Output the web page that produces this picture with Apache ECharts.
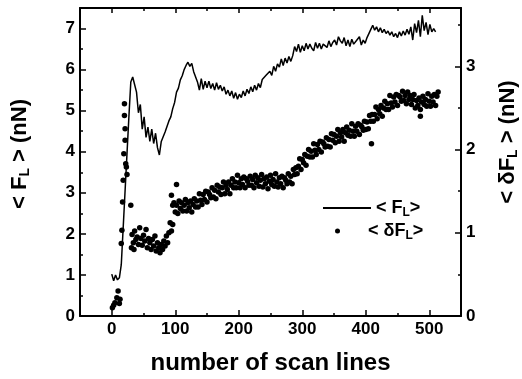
<!DOCTYPE html>
<html>
<head>
<meta charset="utf-8">
<script src="https://cdn.jsdelivr.net/npm/echarts@6/dist/echarts.min.js"></script>
<style>html,body{margin:0;padding:0;background:#fff}#c{width:522px;height:379px}</style>
</head>
<body>
<div id="c"></div>
<script>
// <F_L> (left axis), one value every 3 scan lines starting at 0
const flStartScan = 0;
const flStepScan = 3;
const meanFL = [1.02,0.86,1.00,0.88,0.93,1.25,2.15,3.05,3.95,4.85,
5.70,5.82,5.78,5.45,4.95,5.15,4.55,4.85,4.35,4.60,
4.25,4.55,4.20,4.45,4.10,3.92,4.25,4.22,4.48,4.45,
4.75,4.85,5.05,5.20,5.45,5.55,5.75,5.85,6.00,6.10,
6.18,6.08,6.15,5.95,5.92,5.70,5.50,5.78,5.52,5.72,
5.56,5.72,5.54,5.66,5.50,5.68,5.52,5.62,5.48,5.58,
5.40,5.50,5.36,5.48,5.30,5.44,5.28,5.40,5.32,5.48,
5.36,5.52,5.42,5.58,5.46,5.62,5.50,5.66,5.56,5.76,
5.76,5.86,5.82,5.96,5.86,6.08,5.96,6.14,6.06,6.26,
6.10,6.28,6.16,6.32,6.20,6.34,6.56,6.44,6.62,6.42,
6.58,6.46,6.64,6.50,6.62,6.52,6.46,6.66,6.52,6.64,
6.50,6.62,6.58,6.54,6.70,6.56,6.66,6.72,6.60,6.80,
6.70,6.64,6.78,6.58,6.72,6.56,6.74,6.62,6.58,6.74,
6.80,6.60,6.72,6.64,6.78,6.80,6.98,7.08,6.96,7.04,
6.92,7.02,6.90,6.98,6.88,6.94,6.84,6.92,6.80,6.88,
6.78,6.92,6.82,6.94,6.84,6.98,6.86,7.04,6.72,7.12,
6.90,7.20,6.80,7.32,6.95,7.15,6.85,7.10,6.92,7.00,
6.92];

// <dF_L> (right axis): scattered early points with explicit scan lines
const dFScanEarly = [1,3,5,8,10,12,13,15,16,17,18,19,20,20,21,21,22,23,24,30,
31,32,34,35,36,38,40,42,44,46,48,50,52,54,56,58,60,62,64,66,68,70,72,74,76,78,80,82,84,86,88,90,92,94,96,
94,96,102,409,486,514];
const dFValueEarly = [0.10,0.13,0.16,0.22,0.30,0.15,0.20,0.87,1.03,1.37,1.63,1.95,2.55,2.41,2.25,2.11,1.83,1.79,1.70,1.33,
0.82,0.98,0.88,0.80,1.02,0.92,0.95,0.86,1.06,0.93,0.85,0.97,0.90,1.04,0.82,0.93,0.88,0.80,0.92,0.84,0.96,0.78,0.88,0.82,0.76,0.86,0.80,0.90,0.84,0.96,0.88,1.00,1.12,1.02,1.10,
1.45,1.33,1.58,2.07,2.40,2.69];
// <dF_L> band, one value every 2 scan lines starting at 98
const dFBandStartScan = 98;
const dFBandStepScan = 2;
const dFBand = [1.36,1.25,1.33,1.23,1.38,1.29,1.36,1.26,1.33,1.40,
1.26,1.36,1.30,1.38,1.25,1.34,1.41,1.31,1.38,1.31,
1.47,1.39,1.34,1.46,1.40,1.50,1.37,1.49,1.46,1.42,
1.54,1.43,1.51,1.41,1.57,1.49,1.55,1.46,1.54,1.61,
1.47,1.57,1.52,1.61,1.47,1.57,1.65,1.54,1.61,1.54,
1.69,1.60,1.54,1.65,1.58,1.67,1.54,1.65,1.62,1.57,
1.68,1.57,1.64,1.54,1.69,1.60,1.66,1.56,1.63,1.70,
1.55,1.65,1.59,1.67,1.53,1.62,1.69,1.58,1.64,1.56,
1.71,1.61,1.55,1.66,1.59,1.68,1.54,1.66,1.63,1.59,
1.71,1.61,1.68,1.59,1.76,1.70,1.78,1.71,1.80,1.89,
1.76,1.88,1.84,1.94,1.81,1.92,2.00,1.91,1.98,1.91,
2.07,1.99,1.94,2.06,2.00,2.10,1.97,2.09,2.07,2.03,
2.14,2.04,2.12,2.03,2.19,2.11,2.18,2.08,2.16,2.24,
2.10,2.20,2.15,2.24,2.10,2.20,2.27,2.17,2.23,2.16,
2.31,2.22,2.16,2.28,2.22,2.31,2.18,2.29,2.27,2.23,
2.34,2.24,2.33,2.25,2.41,2.34,2.42,2.34,2.42,2.51,
2.37,2.48,2.43,2.53,2.40,2.50,2.58,2.48,2.55,2.48,
2.65,2.56,2.51,2.63,2.57,2.66,2.53,2.65,2.63,2.58,
2.70,2.59,2.65,2.55,2.69,2.60,2.65,2.54,2.60,2.66,
2.50,2.59,2.53,2.62,2.48,2.57,2.64,2.54,2.60,2.52,
2.67,2.58,2.52,2.64,2.57,2.66,2.53,2.64];

const xMajorTicks = [0,100,200,300,400,500];
const xMinorTicks = [50,150,250,350,450];

const FONT = "'Liberation Sans', Arial, Helvetica, sans-serif";
const BLACK = '#000';

const flData = meanFL.map((v, i) => [flStartScan + i * flStepScan, v]);
const dFData = dFScanEarly.map((s, i) => [s, dFValueEarly[i]])
  .concat(dFBand.map((v, i) => [dFBandStartScan + i * dFBandStepScan, v]));

const subRich = (size, pad) => ({ sub: { fontSize: size, fontWeight: 'bold', fontFamily: FONT, color: BLACK, padding: [pad, 0, 0, 0] } });
const titleStyle = (shift) => ({ fontSize: 22, fontWeight: 'bold', fontFamily: FONT, color: BLACK, padding: [0, 0, 0, shift], rich: subRich(14, 10) });
const tickLabel = { color: BLACK, fontSize: 17, fontWeight: 'bold', fontFamily: FONT };
const lineSt = { color: BLACK, width: 2 };

function xAxisDef(pos, ticks, len, main) {
  return {
    type: 'value', min: -50, max: 550, position: pos,
    axisLine: { show: main, onZero: false, lineStyle: lineSt },
    axisTick: { show: true, inside: true, length: len, customValues: ticks, lineStyle: { color: BLACK, width: 1.5 } },
    axisLabel: (main && pos === 'bottom') ? Object.assign({ customValues: xMajorTicks, margin: 5 }, tickLabel) : { show: false },
    splitLine: { show: false },
    name: (main && pos === 'bottom') ? 'number of scan lines' : '',
    nameLocation: 'middle', nameGap: 35,
    nameTextStyle: { fontSize: 24, fontWeight: 'bold', fontFamily: FONT, color: BLACK }
  };
}

function yAxisDef(pos, max, name, gap, shift) {
  return {
    type: 'value', min: 0, max: max, interval: 1, position: pos,
    axisLine: { show: true, onZero: false, lineStyle: lineSt },
    axisTick: { show: true, inside: true, length: 6, lineStyle: { color: BLACK, width: 1.5 } },
    minorTick: { show: true, splitNumber: 2, length: 3, lineStyle: { color: BLACK, width: 1.5 } },
    axisLabel: Object.assign({ margin: 5, formatter: v => (Number.isInteger(v) ? String(v) : '') }, tickLabel),
    splitLine: { show: false },
    name: name, nameLocation: 'middle', nameRotate: 90, nameGap: gap,
    nameTextStyle: titleStyle(shift)
  };
}

const chart = echarts.init(document.getElementById('c'), null, { renderer: 'canvas' });
chart.setOption({
  animation: false,
  backgroundColor: '#fff',
  grid: { left: 80, right: 61, top: 8, bottom: 63, containLabel: false, outerBoundsMode: 'none' },
  xAxis: [
    xAxisDef('bottom', xMajorTicks, 6, true),
    xAxisDef('bottom', xMinorTicks, 3, false),
    xAxisDef('top', xMajorTicks, 5, true),
    xAxisDef('top', xMinorTicks, 3, false)
  ],
  yAxis: [
    yAxisDef('left', 7.5, '< F{sub|L} > (nN)', 48, 16),
    yAxisDef('right', 3.7, '< δF{sub|L} > (nN)', 35, 40)
  ],
  legend: [
    {
      data: [{ name: 'FL', icon: 'rect' }], left: 323, top: 199, padding: 0,
      itemWidth: 48, itemHeight: 2,
      formatter: () => '< F{sub|L}>',
      textStyle: { fontSize: 18, fontWeight: 'bold', fontFamily: FONT, color: BLACK, rich: subRich(12, 9) }
    },
    {
      data: [{ name: 'dFL', icon: 'circle' }], left: 335, top: 222, padding: 0,
      itemWidth: 5, itemHeight: 5,
      formatter: () => '< δF{sub|L}>',
      textStyle: { fontSize: 18, fontWeight: 'bold', fontFamily: FONT, color: BLACK, padding: [0, 0, 0, 23], rich: subRich(12, 9) }
    }
  ],
  series: [
    {
      name: 'FL', type: 'line', xAxisIndex: 0, yAxisIndex: 0, data: flData,
      showSymbol: false, symbol: 'none', lineStyle: { color: BLACK, width: 1.5 }, itemStyle: { color: BLACK }, z: 3
    },
    {
      name: 'dFL', type: 'scatter', xAxisIndex: 0, yAxisIndex: 1, data: dFData,
      symbol: 'circle', symbolSize: 5.5, itemStyle: { color: BLACK, opacity: 1 }, z: 2
    }
  ]
});
</script>
</body>
</html>
